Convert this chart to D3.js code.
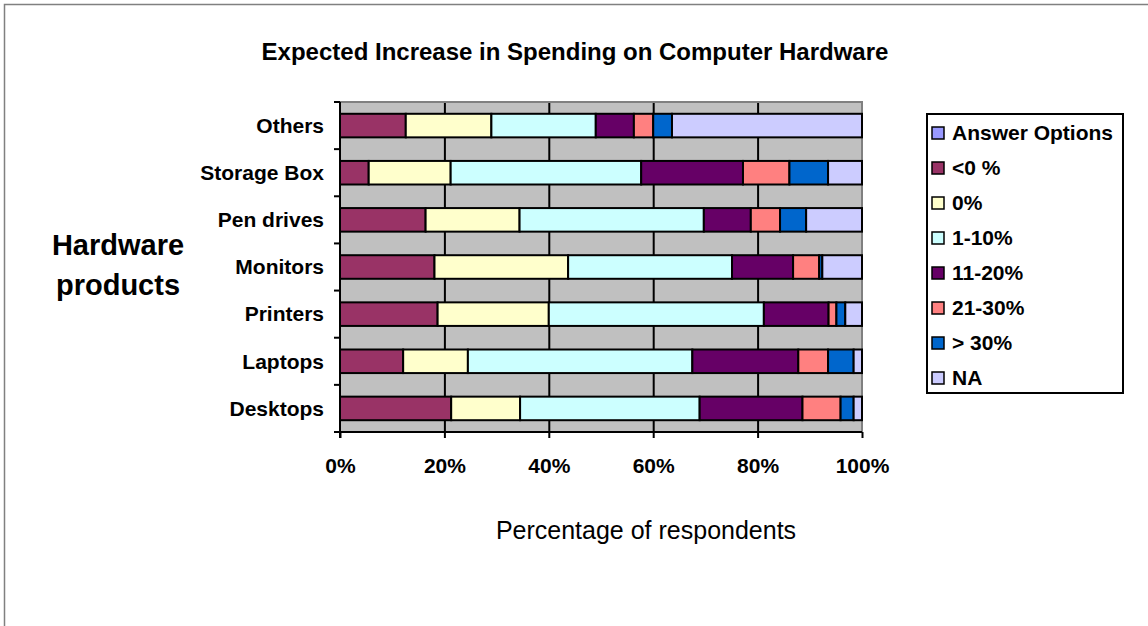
<!DOCTYPE html>
<html>
<head>
<meta charset="utf-8">
<script src="https://cdn.jsdelivr.net/npm/d3@7"></script>
<style>
  html, body { margin: 0; padding: 0; background: #fff; }
  svg { display: block; font-family: "Liberation Sans", Arial, sans-serif; }
</style>
</head>
<body>
<svg id="chart" width="1148" height="626"></svg>
<script>
// Hardware categories, listed bottom to top as they stack on the axis
const categories = ["Desktops", "Laptops", "Printers", "Monitors", "Pen drives", "Storage Box", "Others"];

// Share of respondents (%) per expected change in spending, one array per answer
const answerOptions = [0, 0, 0, 0, 0, 0, 0];
const lessThanZero  = [21.3, 12.1, 18.7, 18.1, 16.4, 5.5, 12.6];
const zeroPct       = [13.2, 12.4, 21.3, 25.6, 18.0, 15.7, 16.4];
const oneToTen      = [34.4, 43.0, 41.2, 31.4, 35.3, 36.5, 20.0];
const elevenToTwenty = [19.7, 20.3, 12.4, 11.7, 9.0, 19.5, 7.3];
const twentyOneToThirty = [7.3, 5.7, 1.5, 5.0, 5.6, 8.9, 3.7];
const overThirty    = [2.5, 4.9, 1.7, 0.6, 5.0, 7.4, 3.6];
const notAnswered   = [1.6, 1.6, 3.2, 7.6, 10.7, 6.5, 36.4];

const seriesNames = ["Answer Options", "<0 %", "0%", "1-10%", "11-20%", "21-30%", "> 30%", "NA"];
const seriesValues = [answerOptions, lessThanZero, zeroPct, oneToTen, elevenToTwenty,
                      twentyOneToThirty, overThirty, notAnswered];
const seriesColors = ["#9999FF", "#993366", "#FFFFCC", "#CCFFFF", "#660066", "#FF8080", "#0066CC", "#CCCCFF"];

const xTickValues = [0, 0.2, 0.4, 0.6, 0.8, 1];

const chartTitle = "Expected Increase in Spending on Computer Hardware";
const yAxisTitle = ["Hardware", "products"];
const xAxisTitle = "Percentage of respondents";

// ---- layout ----
const svg = d3.select("#chart");
const plot = { left: 340, right: 862, top: 102, bottom: 432 };

// outer frame of the chart object
svg.append("rect")
  .attr("x", 4.5).attr("y", 4.5)
  .attr("width", 1200).attr("height", 700)
  .attr("fill", "#fff")
  .attr("stroke", "#808080").attr("stroke-width", 1.5);

// build rows for the stack
const rows = categories.map((c, i) => {
  const r = { category: c };
  seriesNames.forEach((s, j) => { r[s] = seriesValues[j][i]; });
  return r;
});
const stacked = d3.stack().keys(seriesNames).offset(d3.stackOffsetExpand)(rows);

const x = d3.scaleLinear().domain([0, 1]).range([plot.left, plot.right]);
const y = d3.scaleBand().domain(categories).range([plot.bottom, plot.top])
  .paddingInner(0.5).paddingOuter(0.25);
const color = d3.scaleOrdinal().domain(seriesNames).range(seriesColors);

// plot background
svg.append("rect")
  .attr("x", plot.left).attr("y", plot.top)
  .attr("width", plot.right - plot.left).attr("height", plot.bottom - plot.top)
  .attr("fill", "#C0C0C0");

// vertical gridlines
svg.append("g")
  .attr("transform", `translate(0,${plot.bottom})`)
  .call(d3.axisBottom(x).tickValues(xTickValues.slice(1, -1))
        .tickSize(-(plot.bottom - plot.top)).tickFormat(""))
  .call(g => g.select(".domain").remove())
  .call(g => g.selectAll("line").attr("stroke", "#000").attr("stroke-width", 2));

// plot border (top and right)
svg.append("path")
  .attr("d", `M${plot.left},${plot.top}H${plot.right}V${plot.bottom}`)
  .attr("fill", "none").attr("stroke", "#808080").attr("stroke-width", 2);

// stacked bars
svg.append("g").selectAll("g")
  .data(stacked)
  .join("g")
    .attr("fill", d => color(d.key))
  .selectAll("rect")
  .data(d => d.filter(p => p[1] - p[0] > 0))
  .join("rect")
    .attr("x", d => x(d[0]))
    .attr("y", d => y(d.data.category))
    .attr("width", d => x(d[1]) - x(d[0]))
    .attr("height", y.bandwidth())
    .attr("stroke", "#000")
    .attr("stroke-width", 2);

// bottom axis
svg.append("g")
  .attr("transform", `translate(0,${plot.bottom})`)
  .call(d3.axisBottom(x).tickValues(xTickValues).tickFormat(d3.format(".0%"))
        .tickSize(6).tickPadding(20).tickSizeOuter(0))
  .call(g => g.select(".domain").attr("stroke", "#000").attr("stroke-width", 2)
        .attr("d", `M${plot.left - 6},0H${plot.right}`))
  .call(g => g.selectAll(".tick line").attr("stroke", "#000").attr("stroke-width", 2))
  .call(g => g.selectAll(".tick text").attr("fill", "#000")
        .attr("font-size", 21).attr("font-weight", "bold")
        .attr("font-family", "Liberation Sans, Arial, sans-serif"));

// left axis: line, boundary ticks, category labels
const boundaries = d3.range(categories.length + 1)
  .map(i => plot.bottom - i * y.step());
svg.append("line")
  .attr("x1", plot.left).attr("x2", plot.left)
  .attr("y1", plot.top).attr("y2", plot.bottom + 6)
  .attr("stroke", "#000").attr("stroke-width", 2);
svg.append("g").selectAll("line")
  .data(boundaries)
  .join("line")
    .attr("x1", plot.left - 6).attr("x2", plot.left)
    .attr("y1", d => d).attr("y2", d => d)
    .attr("stroke", "#000").attr("stroke-width", 2);
svg.append("g").selectAll("text")
  .data(categories)
  .join("text")
    .attr("x", plot.left - 16)
    .attr("y", d => y(d) + y.bandwidth() / 2)
    .attr("dy", "0.35em")
    .attr("text-anchor", "end")
    .attr("font-size", 21).attr("font-weight", "bold")
    .text(d => d);

// titles
svg.append("text")
  .attr("x", 575).attr("y", 60)
  .attr("text-anchor", "middle")
  .attr("font-size", 24).attr("font-weight", "bold")
  .text(chartTitle);

svg.append("text")
  .attr("x", 118).attr("y", 255)
  .attr("text-anchor", "middle")
  .attr("font-size", 29).attr("font-weight", "bold")
  .selectAll("tspan")
  .data(yAxisTitle)
  .join("tspan")
    .attr("x", 118)
    .attr("dy", (d, i) => i === 0 ? 0 : 40)
    .text(d => d);

svg.append("text")
  .attr("x", 646).attr("y", 539)
  .attr("text-anchor", "middle")
  .attr("font-size", 25)
  .text(xAxisTitle);

// legend
const legend = svg.append("g");
legend.append("rect")
  .attr("x", 927).attr("y", 114).attr("width", 196).attr("height", 279)
  .attr("fill", "#fff").attr("stroke", "#000").attr("stroke-width", 2);
const item = legend.selectAll("g.item")
  .data(seriesNames)
  .join("g").attr("class", "item")
  .attr("transform", (d, i) => `translate(932,${133 + i * 35})`);
item.append("rect")
  .attr("x", 0).attr("y", -6).attr("width", 12).attr("height", 12)
  .attr("fill", d => color(d)).attr("stroke", "#000").attr("stroke-width", 1.5);
item.append("text")
  .attr("x", 20).attr("dy", "0.35em")
  .attr("font-size", 21).attr("font-weight", "bold")
  .text(d => d);
</script>
</body>
</html>
